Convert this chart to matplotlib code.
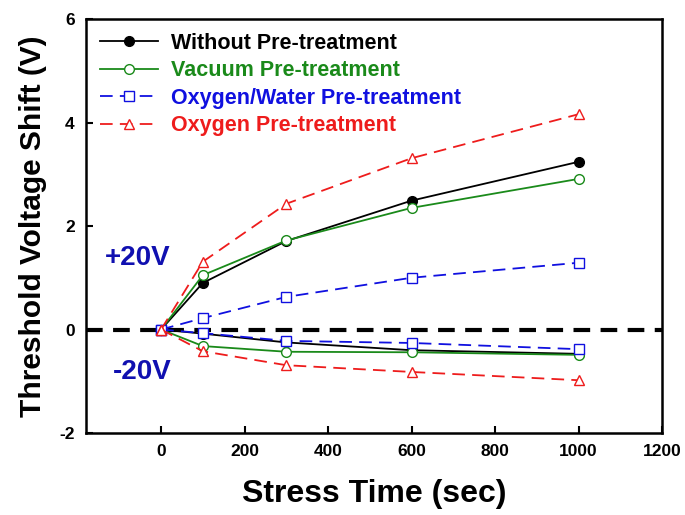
import numpy as np
import matplotlib.pyplot as plt

plt.rcParams['font.family'] = ['Liberation Sans', 'DejaVu Sans']
plt.rcParams['font.weight'] = 'bold'
plt.rcParams['axes.unicode_minus'] = False

# stress time (sec)
t = [0, 100, 300, 600, 1000]

# +20V stress
without_pos = [0, 0.90, 1.71, 2.49, 3.24]
vacuum_pos = [0, 1.05, 1.72, 2.35, 2.91]
oxwater_pos = [0, 0.22, 0.63, 1.00, 1.29]
oxygen_pos = [0, 1.31, 2.43, 3.31, 4.16]

# -20V stress
without_neg = [0, -0.08, -0.25, -0.40, -0.47]
vacuum_neg = [0, -0.32, -0.43, -0.44, -0.49]
oxwater_neg = [0, -0.07, -0.22, -0.26, -0.38]
oxygen_neg = [0, -0.42, -0.69, -0.82, -0.98]

labels = ["Without Pre-treatment", "Vacuum Pre-treatment",
          "Oxygen/Water Pre-treatment", "Oxygen Pre-treatment"]
colors = ["black", "#1a8a1a", "#1010e0", "#ee1c1c"]

fig = plt.figure(figsize=(6.85, 5.15), dpi=100)
ax = fig.add_axes([0.1255, 0.1592, 0.8409, 0.8039])

# zero reference line
ax.axhline(0, color="black", lw=3, dashes=(4, 2.5), zorder=1)

dash = (0, (7, 4))
styles = [
    dict(ls="-", marker="o", mfc="black"),
    dict(ls="-", marker="o", mfc="white"),
    dict(ls=dash, marker="s", mfc="white"),
    dict(ls=dash, marker="^", mfc="white"),
]
pos = [without_pos, vacuum_pos, oxwater_pos, oxygen_pos]
neg = [without_neg, vacuum_neg, oxwater_neg, oxygen_neg]

for i in range(4):
    ax.plot(t, pos[i], color=colors[i], lw=1.3, ms=7, mec=colors[i],
            label=labels[i], zorder=3, **styles[i])
    ax.plot(t, neg[i], color=colors[i], lw=1.3, ms=7, mec=colors[i],
            zorder=3, **styles[i])

ax.text(-57, 1.38, "+20V", color="#1010b0", fontsize=20, fontweight="bold",
        ha="center", va="center")
ax.text(-45, -0.82, "-20V", color="#1010b0", fontsize=20, fontweight="bold",
        ha="center", va="center")

ax.set_xlim(-180, 1200)
ax.set_ylim(-2, 6)
ax.set_xticks([0, 200, 400, 600, 800, 1000, 1200])
ax.set_yticks([-2, 0, 2, 4, 6])
ax.tick_params(direction="in", length=5, width=1.5, labelsize=12.5, pad=8)
for lab in ax.get_xticklabels() + ax.get_yticklabels():
    lab.set_fontweight("bold")
for s in ax.spines.values():
    s.set_linewidth(1.8)

ax.set_xlabel("Stress Time (sec)", fontsize=23, fontweight="bold", labelpad=14)
ax.set_ylabel("Threshold Voltage Shift (V)", fontsize=21.5, fontweight="bold",
              labelpad=9)

leg = ax.legend(loc="upper left", frameon=False,
                handlelength=2.7, labelspacing=0.3, borderaxespad=0.25,
                handletextpad=0.6,
                prop={"weight": "bold", "size": 15.5})
for txt, c in zip(leg.get_texts(), colors):
    txt.set_color(c)

fig.savefig("out.png", dpi=100)
